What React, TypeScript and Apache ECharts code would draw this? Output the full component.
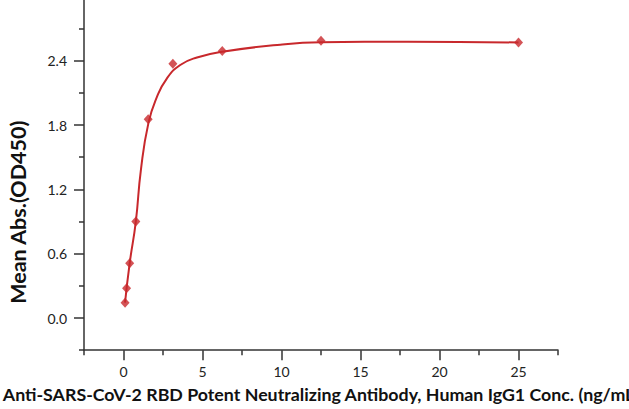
import React, { useEffect, useRef } from "react";
import * as echarts from "echarts";

// Measured points (x: concentration ng/mL, y: mean OD450)
const concentrations = [0.098, 0.195, 0.39, 0.78, 1.5625, 3.125, 6.25, 12.5, 25];
const meanAbs = [0.143, 0.277, 0.51, 0.9, 1.853, 2.372, 2.49, 2.587, 2.57];

// Fitted curve
const fitX = [0.098, 0.39, 0.78, 1.1, 1.58, 2.11, 2.75, 3.59, 4.65, 6.25, 9.92, 12.5, 18, 25];
const fitY = [0.143, 0.51, 0.9, 1.38, 1.82, 2.06, 2.236, 2.36, 2.43, 2.484, 2.55, 2.572, 2.577, 2.57];

const xLabels = [0, 5, 10, 15, 20, 25];
const yLabels = [0, 0.6, 1.2, 1.8, 2.4];

const xTitle = "Anti-SARS-CoV-2 RBD Potent Neutralizing Antibody, Human IgG1 Conc. (ng/mL)";
const yTitle = "Mean Abs.(OD450)";

const RED = "#c8282c";
const AXIS = "#333333";
const FONT = "Lato";

export default function App() {
  const ref = useRef<HTMLDivElement>(null);
  useEffect(() => {
    if (!ref.current) return;
    const chart = echarts.init(ref.current, undefined, { renderer: "svg" });
    const xMin = -2.5, xMax = 27.5;
    const yMin = -0.3, yMax = 3.3;
    const pxPerY = 107.2;
    const yZeroPx = 318;
    const gridBottomPx = yZeroPx - yMin * pxPerY;
    const gridTopPx = yZeroPx - yMax * pxPerY;
    const lineStyle = { color: AXIS, width: 1.5 };
    chart.setOption({
      animation: false,
      backgroundColor: "#ffffff",
      grid: {
        left: 84, right: 629 - 558, top: gridTopPx, bottom: 409 - gridBottomPx,
        containLabel: false, outerBoundsMode: "none",
      },
      xAxis: {
        // ticks counted from min (-2.5) every 5 give the short ticks; minor ticks halfway give the long ones
        type: "value", min: xMin, max: xMax, interval: 5, position: "bottom",
        axisLine: { show: true, onZero: false, lineStyle },
        axisTick: { show: true, length: 5, lineStyle },
        minorTick: { show: true, splitNumber: 2, length: 10, lineStyle },
        minorSplitLine: { show: false },
        axisLabel: { show: true, customValues: xLabels, margin: 14, fontSize: 14, color: "#222", fontFamily: FONT },
        splitLine: { show: false },
        name: xTitle, nameLocation: "middle", nameGap: 35,
        nameTextStyle: { fontSize: 17.8, fontWeight: "bold", color: "#111", fontFamily: FONT },
      },
      yAxis: {
        type: "value", min: yMin, max: yMax, interval: 0.6, position: "left",
        axisLine: { show: true, onZero: false, lineStyle },
        axisTick: { show: true, length: 5, lineStyle },
        minorTick: { show: true, splitNumber: 2, length: 10, lineStyle },
        minorSplitLine: { show: false },
        axisLabel: { show: true, customValues: yLabels, margin: 17, fontSize: 14, color: "#222", fontFamily: FONT,
          formatter: (v: number) => v.toFixed(1) },
        splitLine: { show: false },
        name: yTitle, nameLocation: "middle", nameGap: 55, nameRotate: 90,
        nameTextStyle: { fontSize: 21.5, fontWeight: "bold", color: "#111", fontFamily: FONT, padding: [0, 110, 0, 0] },
      },
      series: [
        {
          type: "line", name: "fit",
          data: fitX.map((x, i) => [x, fitY[i]]),
          smooth: 0.5, showSymbol: false, symbol: "none",
          lineStyle: { color: RED, width: 2 }, z: 2,
        },
        {
          type: "scatter", name: "data",
          data: concentrations.map((x, i) => [x, meanAbs[i]]),
          symbol: "diamond", symbolSize: [9, 10],
          itemStyle: { color: RED }, z: 3,
        },
      ],
    });
    return () => chart.dispose();
  }, []);
  return <div ref={ref} style={{ position: "fixed", left: 0, top: 0, width: 629, height: 409 }} />;
}
